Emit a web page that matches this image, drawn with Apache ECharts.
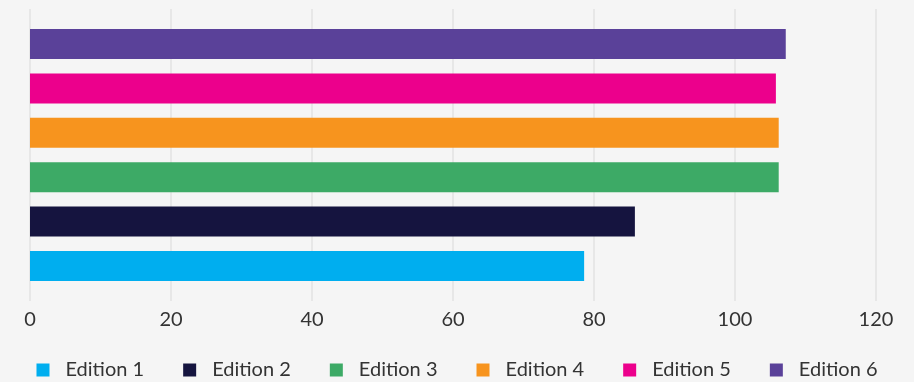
<!DOCTYPE html>
<html>
<head>
<meta charset="utf-8">
<script src="https://cdn.jsdelivr.net/npm/echarts@6/dist/echarts.min.js"></script>
<style>html,body{margin:0;padding:0;background:#f5f5f5;}#c{width:914px;height:382px;}</style>
</head>
<body>
<div id="c"></div>
<script>
const categories = [''];
const seriesNames = ['Edition 1', 'Edition 2', 'Edition 3', 'Edition 4', 'Edition 5', 'Edition 6'];
const seriesValues = [78.6, 85.8, 106.2, 106.2, 105.8, 107.2];
const colors = ['#00AEEF', '#15143F', '#3DAA66', '#F7941E', '#EC008C', '#5A4199'];
const xTicks = [0, 20, 40, 60, 80, 100, 120];

const order = seriesNames.map((_, i) => i).reverse();
const chart = echarts.init(document.getElementById('c'));
chart.setOption({
  backgroundColor: '#f5f5f5',
  animation: false,
  textStyle: { fontFamily: 'Lato' },
  grid: { left: 30, right: 38, top: 9, bottom: 81 },
  legend: {
    top: 360, left: 'center', padding: 0,
    icon: 'rect', itemWidth: 13, itemHeight: 13, itemGap: 39,
    textStyle: { fontSize: 20, color: '#333', fontFamily: 'Lato', padding: [0, 0, 0, 11], lineHeight: 20 },
    data: seriesNames
  },
  xAxis: {
    type: 'value', min: xTicks[0], max: xTicks[xTicks.length - 1], interval: 20,
    axisLine: { show: false }, axisTick: { show: false },
    splitLine: { show: true, lineStyle: { color: '#e2e2e2', width: 1.5 } },
    axisLabel: { fontSize: 20, color: '#333', margin: 9, fontFamily: 'Lato' }
  },
  yAxis: {
    type: 'category', data: categories,
    axisLine: { show: false }, axisTick: { show: false }, axisLabel: { show: false }
  },
  series: order.map(i => ({
    name: seriesNames[i], type: 'bar', data: [seriesValues[i]],
    barWidth: 30, barGap: '48%',
    itemStyle: { color: colors[i] }
  }))
});
</script>
</body>
</html>
